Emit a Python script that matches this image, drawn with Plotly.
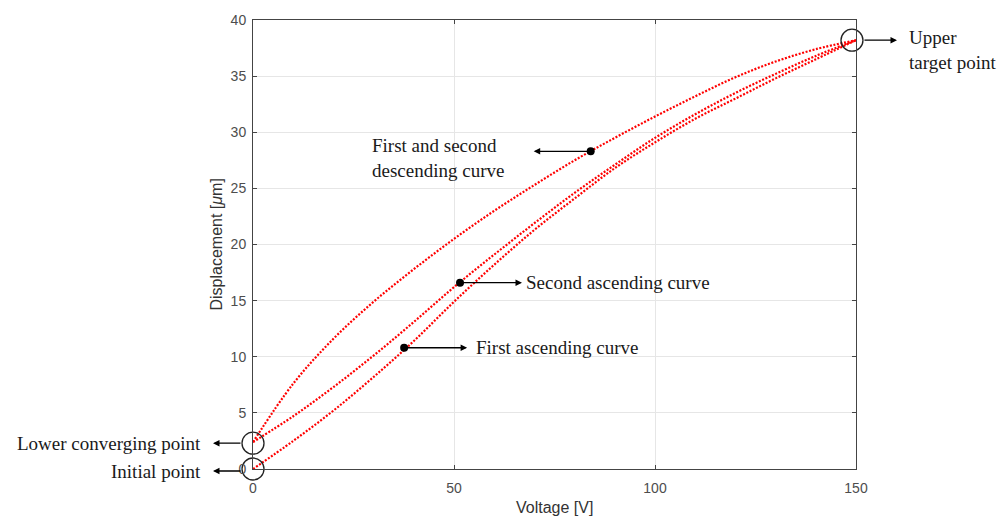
import plotly.graph_objects as go

# Voltage grid (V)
voltage = [0, 10, 20, 30, 40, 50, 60, 70, 80, 90, 100, 110, 120, 130, 140, 150]

# Displacement (um)
first_ascending = [0.0, 2.5, 5.2, 8.2, 11.4, 14.9, 18.2, 21.3, 24.1, 26.8, 29.1, 31.2, 33.0, 34.8, 36.5, 38.2]
second_ascending = [2.4, 4.7, 7.3, 10.1, 13.1, 16.2, 19.1, 21.9, 24.6, 27.1, 29.5, 31.6, 33.5, 35.2, 36.8, 38.2]
descending = [2.4, 7.6, 11.6, 14.9, 17.8, 20.5, 23.0, 25.3, 27.5, 29.5, 31.4, 33.2, 34.9, 36.3, 37.4, 38.2]

# Special points (circles)
circle_v = [0, 0, 149]
circle_d = [0.0, 2.3, 38.2]

# Labelled curve points (black dots)
dot_v = [84, 51.5, 37.6]
dot_d = [28.3, 16.6, 10.8]

x_ticks = [0, 50, 100, 150]
y_ticks = [0, 5, 10, 15, 20, 25, 30, 35, 40]

RED = "#ff0000"
fig = go.Figure()
for ys in (first_ascending, second_ascending, descending):
    fig.add_trace(go.Scatter(
        x=voltage, y=ys, mode="lines",
        line=dict(color=RED, width=2.2, dash="2px,1.6px", shape="spline", smoothing=1.0),
        showlegend=False, hoverinfo="skip"))

fig.add_trace(go.Scatter(
    x=circle_v, y=circle_d, mode="markers", cliponaxis=False,
    marker=dict(symbol="circle-open", size=22, color="#222", line=dict(width=1.3, color="#222")),
    showlegend=False, hoverinfo="skip"))

fig.add_trace(go.Scatter(
    x=dot_v, y=dot_d, mode="markers", cliponaxis=False,
    marker=dict(symbol="circle", size=8, color="black"),
    showlegend=False, hoverinfo="skip"))

serif = dict(family="Liberation Serif", size=19, color="#1a1a1a")
arrow = dict(showarrow=True, arrowhead=2, arrowsize=1, arrowwidth=1.3, arrowcolor="black",
             axref="pixel", ayref="pixel", text="")

# arrows
fig.add_annotation(x=circle_v[1], y=circle_d[1], xshift=-40, ax=29, ay=0, **arrow)
fig.add_annotation(x=circle_v[0], y=circle_d[0], xshift=-40, yshift=-2, ax=29, ay=0, **arrow)
fig.add_annotation(x=circle_v[2], y=circle_d[2], xshift=45, ax=-34, ay=0, **arrow)
fig.add_annotation(x=dot_v[0], y=dot_d[0], xshift=-57, ax=57, ay=0, **arrow)
fig.add_annotation(x=dot_v[1], y=dot_d[1], xshift=62, ax=-62, ay=0, **arrow)
fig.add_annotation(x=dot_v[2], y=dot_d[2], xshift=63, ax=-63, ay=0, **arrow)

# texts
fig.add_annotation(x=circle_v[1], y=circle_d[1], xshift=-50, xanchor="right", yanchor="middle",
                   text="Lower converging point", showarrow=False, font=serif)
fig.add_annotation(x=circle_v[0], y=circle_d[0], xshift=-50, yshift=-2, xanchor="right", yanchor="middle",
                   text="Initial point", showarrow=False, font=serif)
fig.add_annotation(x=circle_v[2], y=circle_d[2], xshift=55, yshift=-10, xanchor="left", yanchor="middle",
                   align="left", text="Upper<br>target point", showarrow=False, font=serif)
fig.add_annotation(x=29.0, y=27.7, xanchor="left", yanchor="middle", align="left",
                   text="First and second<br>descending curve", showarrow=False, font=serif)
fig.add_annotation(x=dot_v[1], y=dot_d[1], xshift=64, xanchor="left", yanchor="middle",
                   text="Second ascending curve", showarrow=False, font=serif)
fig.add_annotation(x=dot_v[2], y=dot_d[2], xshift=70, xanchor="left", yanchor="middle",
                   text="First ascending curve", showarrow=False, font=serif)

# axis titles
sans = dict(family="Liberation Sans", size=16, color="#333333")
fig.add_annotation(xref="paper", yref="paper", x=0.5, y=0, yshift=-38, xanchor="center", yanchor="middle",
                   text="Voltage [V]", showarrow=False, font=sans)
fig.add_annotation(xref="paper", yref="paper", x=0, y=0.5, xshift=-37, xanchor="center", yanchor="middle",
                   textangle=-90, text="Displacement [<i>μ</i>m]", showarrow=False, font=sans)

axis_common = dict(showline=True, linecolor="#444", linewidth=1, mirror="ticks",
                   ticks="inside", ticklen=4, tickcolor="#444", showgrid=True,
                   gridcolor="#e6e6e6", gridwidth=1, zeroline=False,
                   tickfont=dict(family="Liberation Sans", size=14, color="#4d4d4d"))

fig.update_xaxes(range=[0, 150], tickvals=x_ticks, ticktext=[str(v) for v in x_ticks],
                 ticklabelstandoff=6, **axis_common)
fig.update_yaxes(range=[0, 40], tickvals=y_ticks, ticktext=[str(v) for v in y_ticks],
                 ticklabelstandoff=3, **axis_common)

fig.update_layout(width=1000, height=517, margin=dict(l=253, r=144, t=18, b=48),
                  plot_bgcolor="white", paper_bgcolor="white", showlegend=False)

fig.write_html("out.html")
